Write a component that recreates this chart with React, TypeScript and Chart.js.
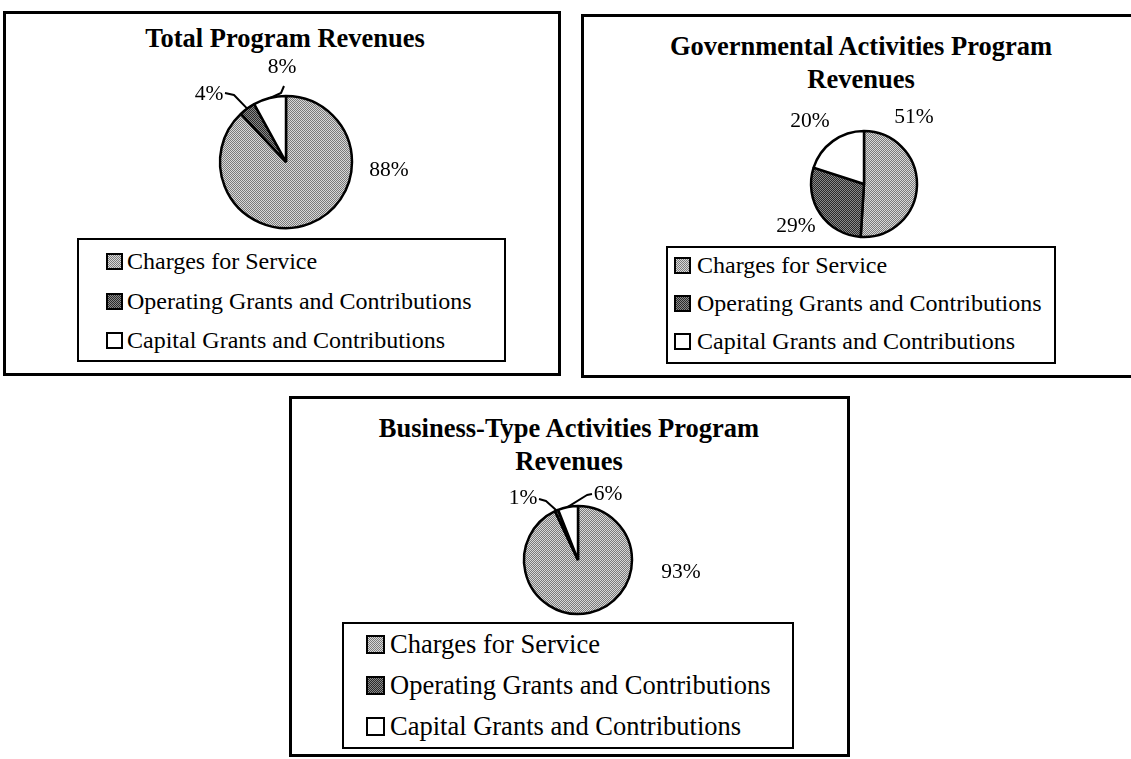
import React, { useEffect, useRef } from "react";
import { Chart, registerables } from "chart.js";

Chart.register(...registerables);

// ---------- data ----------
const categories = [
  "Charges for Service",
  "Operating Grants and Contributions",
  "Capital Grants and Contributions",
];
const totalTitle = ["Total Program Revenues"];
const totalValues = [88, 4, 8];
const govTitle = ["Governmental Activities Program", "Revenues"];
const govValues = [51, 29, 20];
const bizTitle = ["Business-Type Activities Program", "Revenues"];
const bizValues = [93, 1, 6];

// ---------- styles ----------
const SERIF = '"Liberation Serif", "Times New Roman", serif';
const LIGHT = ["#7a7a7a", "#d8d8d8"];
const DARK = ["#2a2a2a", "#8a8a8a"];
const ASC = 0.8375; // baseline offset inside a line box of line-height 1em

type Pt = [number, number];
interface Leader { start: Pt; elbow: Pt }
interface PanelCfg {
  box: { l: number; t: number; w: number; h: number };
  title: { lines: string[]; cx: number; baselines: number[]; size: number };
  values: number[];
  pie: { cx: number; cy: number; r: number };
  labelSize: number;
  labelOffsets: Pt[];
  leaders: (Leader | null)[];
  legend: {
    l: number; t: number; w: number; h: number; size: number;
    markerX: number; markerSize: number; textX: number; baselines: number[];
  };
}

const panels: PanelCfg[] = [
  {
    box: { l: 3, t: 11, w: 558, h: 365 },
    title: { lines: totalTitle, cx: 285, baselines: [47], size: 26.5 },
    values: totalValues,
    pie: { cx: 286, cy: 162, r: 66 },
    labelSize: 21.5,
    labelOffsets: [[103, 8], [-77, -68], [-4, -95]],
    leaders: [null, { start: [-61, -69], elbow: [-52, -67] }, { start: [-2, -76], elbow: [-5, -69] }],
    legend: { l: 77, t: 238, w: 429, h: 124, size: 24, markerX: 106, markerSize: 17, textX: 127, baselines: [269, 309, 348] },
  },
  {
    box: { l: 581, t: 14, w: 570, h: 364 },
    title: { lines: govTitle, cx: 861, baselines: [55, 88], size: 26.5 },
    values: govValues,
    pie: { cx: 864, cy: 184, r: 53 },
    labelSize: 21.5,
    labelOffsets: [[50, -67], [-68, 42], [-54, -63]],
    leaders: [null, null, null],
    legend: { l: 666, t: 246, w: 390, h: 118, size: 24, markerX: 674, markerSize: 17, textX: 697, baselines: [273, 311, 349] },
  },
  {
    box: { l: 289, t: 396, w: 561, h: 361 },
    title: { lines: bizTitle, cx: 569, baselines: [437, 470], size: 26.5 },
    values: bizValues,
    pie: { cx: 578, cy: 560, r: 54 },
    labelSize: 21.5,
    labelOffsets: [[103, 12], [-55, -62], [30, -66]],
    leaders: [null, { start: [-39, -61], elbow: [-32, -59] }, { start: [14, -66], elbow: [9, -65] }],
    legend: { l: 342, t: 622, w: 452, h: 127, size: 26.5, markerX: 366, markerSize: 19, textX: 390, baselines: [653, 694, 735] },
  },
];

function makePattern(ctx: CanvasRenderingContext2D, c: string[]) {
  const cv = document.createElement("canvas");
  cv.width = 2;
  cv.height = 2;
  const g = cv.getContext("2d")!;
  g.fillStyle = c[1];
  g.fillRect(0, 0, 2, 2);
  g.fillStyle = c[0];
  g.fillRect(0, 0, 1, 1);
  g.fillRect(1, 1, 1, 1);
  return ctx.createPattern(cv, "repeat")!;
}

const labelPlugin = {
  id: "pctLabels",
  afterDatasetsDraw(chart: any, _args: any, opts: any) {
    const meta = chart.getDatasetMeta(0);
    const ctx: CanvasRenderingContext2D = chart.ctx;
    const data = chart.data.datasets[0].data as number[];
    meta.data.forEach((arc: any, i: number) => {
      const p = arc.getProps(["x", "y", "outerRadius", "startAngle", "endAngle"], true);
      const mid = (p.startAngle + p.endAngle) / 2;
      const off = opts.offsets[i];
      ctx.save();
      ctx.fillStyle = "#000";
      ctx.font = `${opts.size}px ${SERIF}`;
      ctx.textAlign = "center";
      ctx.textBaseline = "middle";
      ctx.fillText(`${data[i]}%`, p.x + off[0], p.y + off[1]);
      const ld = opts.leaders[i];
      if (ld) {
        ctx.beginPath();
        ctx.moveTo(p.x + ld.start[0], p.y + ld.start[1]);
        ctx.lineTo(p.x + ld.elbow[0], p.y + ld.elbow[1]);
        ctx.lineTo(p.x + Math.cos(mid) * p.outerRadius, p.y + Math.sin(mid) * p.outerRadius);
        ctx.strokeStyle = "#000";
        ctx.lineWidth = 2;
        ctx.lineJoin = "round";
        ctx.stroke();
      }
      ctx.restore();
    });
  },
};

function markerBg(c: string[] | null) {
  if (!c) return "#fff";
  return `repeating-conic-gradient(${c[0]} 0% 25%, ${c[1]} 0% 50%) 0 0 / 2px 2px`;
}

function PiePanel({ cfg }: { cfg: PanelCfg }) {
  const ref = useRef<HTMLCanvasElement>(null);
  const { box, pie, legend, title } = cfg;

  useEffect(() => {
    const canvas = ref.current!;
    const ctx = canvas.getContext("2d")!;
    const cx = pie.cx - box.l;
    const cy = pie.cy - box.t;
    const s = pie.r + 4;
    const chart = new Chart(canvas, {
      type: "pie",
      data: {
        labels: categories,
        datasets: [
          {
            data: cfg.values,
            backgroundColor: [makePattern(ctx, LIGHT), makePattern(ctx, DARK), "#ffffff"],
            borderColor: "#000",
            borderWidth: 2.5,
            radius: pie.r,
          } as any,
        ],
      },
      options: {
        animation: false,
        responsive: false,
        maintainAspectRatio: false,
        events: [],
        layout: {
          padding: { left: cx - s, right: box.w - cx - s, top: cy - s, bottom: box.h - cy - s },
        },
        plugins: {
          legend: { display: false },
          tooltip: { enabled: false },
          title: { display: false },
          pctLabels: { offsets: cfg.labelOffsets, leaders: cfg.leaders, size: cfg.labelSize },
        } as any,
      },
      plugins: [labelPlugin],
    });
    return () => chart.destroy();
  }, []);

  const markers = [LIGHT, DARK, null];

  return (
    <>
      <div
        style={{
          position: "absolute", left: box.l, top: box.t, width: box.w, height: box.h,
          border: "3px solid #000", boxSizing: "border-box", background: "#fff",
        }}
      />
      {title.lines.map((line, i) => (
        <div
          key={"t" + i}
          style={{
            position: "absolute", left: title.cx - 300, width: 600, textAlign: "center",
            top: title.baselines[i] - ASC * title.size, fontSize: title.size, lineHeight: `${title.size}px`,
            fontFamily: SERIF, fontWeight: "bold", color: "#000", whiteSpace: "nowrap",
          }}
        >
          {line}
        </div>
      ))}
      <div
        style={{
          position: "absolute", left: legend.l, top: legend.t, width: legend.w, height: legend.h,
          border: "2px solid #000", boxSizing: "border-box", background: "#fff",
        }}
      />
      {categories.map((c, i) => (
        <React.Fragment key={"l" + i}>
          <div
            style={{
              position: "absolute", left: legend.markerX, top: legend.baselines[i] - legend.markerSize + 1,
              width: legend.markerSize, height: legend.markerSize, border: "2px solid #000",
              boxSizing: "border-box", background: markerBg(markers[i]),
            }}
          />
          <div
            style={{
              position: "absolute", left: legend.textX, top: legend.baselines[i] - ASC * legend.size,
              fontSize: legend.size, lineHeight: `${legend.size}px`, fontFamily: SERIF, color: "#000",
              whiteSpace: "nowrap",
            }}
          >
            {c}
          </div>
        </React.Fragment>
      ))}
      <canvas
        ref={ref}
        width={box.w}
        height={box.h}
        style={{ position: "absolute", left: box.l, top: box.t, width: box.w, height: box.h }}
      />
    </>
  );
}

export default function App() {
  return (
    <div
      style={{
        position: "absolute", left: 0, top: 0, width: 1131, height: 759,
        overflow: "hidden", background: "#fff",
      }}
    >
      {panels.map((p, i) => (
        <PiePanel key={i} cfg={p} />
      ))}
    </div>
  );
}
